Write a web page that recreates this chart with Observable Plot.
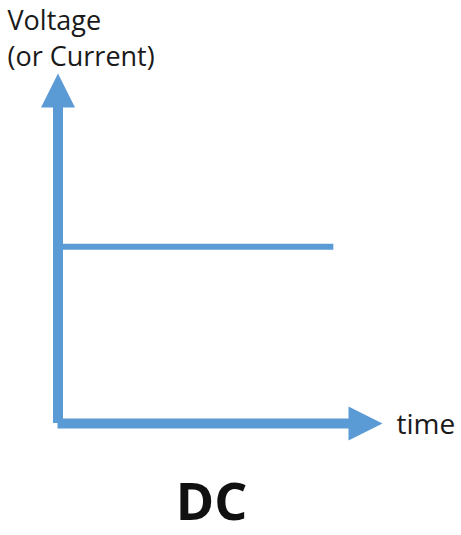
<!DOCTYPE html>
<html><head><meta charset="utf-8">
<script src="https://cdn.jsdelivr.net/npm/d3@7"></script>
<script src="https://cdn.jsdelivr.net/npm/@observablehq/plot@0.6"></script>
<style>body{margin:0;background:#fff}</style>
</head><body><div id="chart"></div>
<script>
// data
const timeRange = [0, 10];
const valueRange = [0, 10];
const dcLevel = [5.05];
const dcSpan = [0, 8.5];
const yLabelLines = ["Voltage", "(or Current)"];
const xLabel = ["time"];
const title = ["DC"];

const blue = "#5b9bd5";
const shaftEnd = 9.4;
const heads = [
  {x: timeRange[0], y: valueRange[1], rotate: 0},
  {x: timeRange[1], y: valueRange[0], rotate: 90}
];
const arrowHead = {
  draw(ctx) {
    ctx.moveTo(0, 0);
    ctx.lineTo(-17, 34);
    ctx.lineTo(17, 34);
    ctx.closePath();
  }
};
const font = "Open Sans, sans-serif";

const chart = Plot.plot({
  width: 461,
  height: 535,
  margin: 0,
  style: {background: "#fff", overflow: "visible"},
  x: {domain: timeRange, range: [57.5, 382], axis: null},
  y: {domain: valueRange, range: [423, 73], axis: null},
  marks: [
    Plot.ruleX([timeRange[0]], {y1: valueRange[0], y2: shaftEnd, stroke: blue, strokeWidth: 10}),
    Plot.ruleY([valueRange[0]], {x1: timeRange[0], x2: shaftEnd, stroke: blue, strokeWidth: 10}),
    Plot.ruleY(dcLevel, {x1: dcSpan[0], x2: dcSpan[1], stroke: blue, strokeWidth: 6}),
    Plot.dot(heads, {x: "x", y: "y", rotate: "rotate", symbol: arrowHead, fill: blue, stroke: "none", r: 10}),
    Plot.text([yLabelLines.join("\n")], {frameAnchor: "top-left", dx: 7, dy: 65, textAnchor: "start", lineAnchor: "bottom", fontSize: 27, lineHeight: 36/27, fill: "#1a1a1a", fontFamily: font}),
    Plot.text(xLabel, {x: timeRange[1], y: valueRange[0], dx: 14, dy: 10, textAnchor: "start", lineAnchor: "bottom", fontSize: 28, fill: "#1a1a1a", fontFamily: font}),
    Plot.text(title, {frameAnchor: "top-left", dx: 211, dy: 519, textAnchor: "middle", lineAnchor: "bottom", fontSize: 52, fontWeight: "bold", fill: "#111", fontFamily: font})
  ]
});
document.getElementById("chart").append(chart);
</script>
</body></html>
